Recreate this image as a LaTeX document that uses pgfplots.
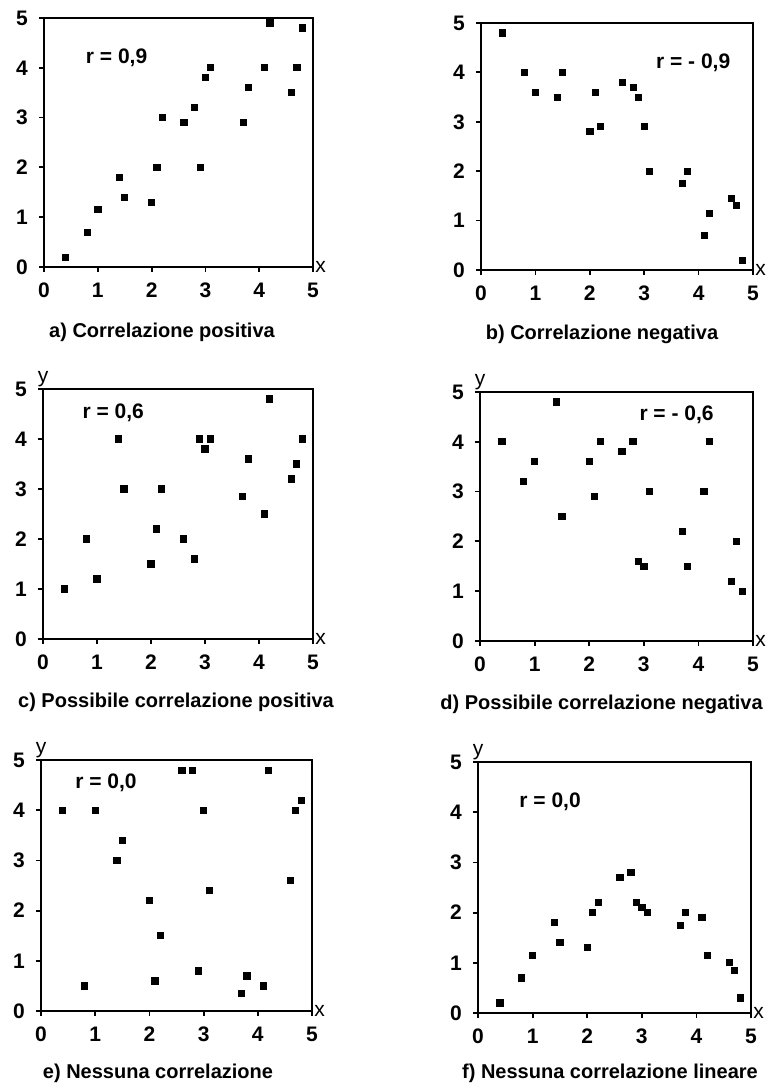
\documentclass[border=0pt]{standalone}
\usepackage{fontspec}
\setmainfont{Liberation Sans}
\usepackage{pgfplots}
\pgfplotsset{compat=1.18}
\pgfplotsset{
  corr/.style={
    scale only axis, anchor=south west,
    xmin=0, xmax=5, ymin=0, ymax=5,
    xtick={0,1,2,3,4,5}, ytick={0,1,2,3,4,5},
    xtick pos=bottom, ytick pos=left,
    tick align=outside, major tick length=2.6pt,
    axis line style={line width=1pt},
    every tick/.style={line width=0.9pt, black},
    /pgf/number format/assume math mode=true,
    every tick label/.append style={font=\bfseries\fontsize{10.5}{12}\selectfont},
    xticklabel style={yshift=-2pt},
    yticklabel style={xshift=-2pt},
    clip=false,
  },
  pts/.style={only marks, mark=square*, mark size=1.55pt, black},
}
\newcommand{\rfont}{\bfseries\fontsize{10.5}{12}\selectfont}
\newcommand{\capfont}{\bfseries\fontsize{10}{12}\selectfont}
\begin{document}
\begin{tikzpicture}
\path[use as bounding box, fill=white] (0,0) rectangle (383.5pt,546pt);

% a
\begin{axis}[corr, at={(22pt,412.5pt)}, width=134.5pt, height=124.5pt]
\addplot[pts] coordinates {(0.4,0.2)(0.8,0.7)(1.0,1.15)(1.4,1.8)(1.5,1.4)(2.0,1.3)(2.1,2.0)(2.2,3.0)(2.6,2.9)(2.8,3.2)(2.9,2.0)(3.0,3.8)(3.1,4.0)(3.7,2.9)(3.8,3.6)(4.1,4.0)(4.2,4.9)(4.6,3.5)(4.7,4.0)(4.8,4.8)};
\node[font=\rfont] at (axis cs:1.35,4.2) {r = 0,9};
\node[anchor=west, inner sep=1pt, font=\fontsize{10.5}{12}\selectfont] at (axis cs:5,0) {x};
\end{axis}

% b
\begin{axis}[corr, at={(240.5pt,411pt)}, width=136pt, height=123.5pt]
\addplot[pts] coordinates {(0.4,4.8)(0.8,4.0)(1.0,3.6)(1.4,3.5)(1.5,4.0)(2.0,2.8)(2.1,3.6)(2.2,2.9)(2.6,3.8)(2.8,3.7)(2.9,3.5)(3.0,2.9)(3.1,2.0)(3.7,1.75)(3.8,2.0)(4.1,0.7)(4.2,1.15)(4.6,1.45)(4.7,1.3)(4.8,0.2)};
\node[font=\rfont] at (axis cs:3.9,4.2) {r = - 0,9};
\node[anchor=west, inner sep=1pt, font=\fontsize{10.5}{12}\selectfont] at (axis cs:5,0) {x};
\end{axis}

% c
\begin{axis}[corr, at={(21.5pt,226.5pt)}, width=135pt, height=125pt]
\addplot[pts] coordinates {(0.4,1.0)(0.8,2.0)(1.0,1.2)(1.4,4.0)(1.5,3.0)(2.0,1.5)(2.1,2.2)(2.2,3.0)(2.6,2.0)(2.8,1.6)(2.9,4.0)(3.0,3.8)(3.1,4.0)(3.7,2.85)(3.8,3.6)(4.1,2.5)(4.2,4.8)(4.6,3.2)(4.7,3.5)(4.8,4.0)};
\node[font=\rfont] at (axis cs:1.3,4.52) {r = 0,6};
\node[anchor=west, inner sep=1pt, font=\fontsize{10.5}{12}\selectfont] at (axis cs:5,0) {x};
\node[anchor=south, inner sep=1pt, font=\fontsize{10.5}{12}\selectfont] at (axis cs:0,5) {y};
\end{axis}

% d
\begin{axis}[corr, at={(240pt,225.5pt)}, width=136.5pt, height=124.5pt]
\addplot[pts] coordinates {(0.4,4.0)(0.8,3.2)(1.0,3.6)(1.4,4.8)(1.5,2.5)(2.0,3.6)(2.1,2.9)(2.2,4.0)(2.6,3.8)(2.8,4.0)(2.9,1.6)(3.0,1.5)(3.1,3.0)(3.7,2.2)(3.8,1.5)(4.1,3.0)(4.2,4.0)(4.6,1.2)(4.7,2.0)(4.8,1.0)};
\node[font=\rfont] at (axis cs:3.6,4.54) {r = - 0,6};
\node[anchor=west, inner sep=1pt, font=\fontsize{10.5}{12}\selectfont] at (axis cs:5,0) {x};
\node[anchor=south, inner sep=1pt, font=\fontsize{10.5}{12}\selectfont] at (axis cs:0,5) {y};
\end{axis}

% e
\begin{axis}[corr, at={(20.5pt,40.5pt)}, width=135.5pt, height=125.5pt]
\addplot[pts] coordinates {(0.4,4.0)(0.8,0.5)(1.0,4.0)(1.4,3.0)(1.5,3.4)(2.0,2.2)(2.1,0.6)(2.2,1.5)(2.6,4.8)(2.8,4.8)(2.9,0.8)(3.0,4.0)(3.1,2.4)(3.7,0.35)(3.8,0.7)(4.1,0.5)(4.2,4.8)(4.6,2.6)(4.7,4.0)(4.8,4.2)};
\node[font=\rfont] at (axis cs:1.2,4.54) {r = 0,0};
\node[anchor=west, inner sep=1pt, font=\fontsize{10.5}{12}\selectfont] at (axis cs:5,0) {x};
\node[anchor=south, inner sep=1pt, font=\fontsize{10.5}{12}\selectfont] at (axis cs:0,5) {y};
\end{axis}

% f
\begin{axis}[corr, at={(239pt,39.5pt)}, width=136.5pt, height=125.5pt]
\addplot[pts] coordinates {(0.4,0.2)(0.8,0.7)(1.0,1.15)(1.4,1.8)(1.5,1.4)(2.0,1.3)(2.1,2.0)(2.2,2.2)(2.6,2.7)(2.8,2.8)(2.9,2.2)(3.0,2.1)(3.1,2.0)(3.7,1.75)(3.8,2.0)(4.1,1.9)(4.2,1.15)(4.6,1.0)(4.7,0.85)(4.8,0.3)};
\node[font=\rfont] at (axis cs:1.32,4.2) {r = 0,0};
\node[anchor=west, inner sep=1pt, font=\fontsize{10.5}{12}\selectfont] at (axis cs:5,0) {x};
\node[anchor=south, inner sep=1pt, font=\fontsize{10.5}{12}\selectfont] at (axis cs:0,5) {y};
\end{axis}

% captions
\node[font=\capfont] at (81pt,380pt) {a) Correlazione positiva};
\node[font=\capfont] at (301pt,379pt) {b) Correlazione negativa};
\node[font=\capfont] at (88pt,195pt) {c) Possibile correlazione positiva};
\node[font=\capfont, anchor=west, inner sep=0pt] at (220pt,194pt) {d) Possibile correlazione negativa};
\node[font=\capfont] at (79pt,9.5pt) {e) Nessuna correlazione};
\node[font=\capfont] at (305pt,9.5pt) {f) Nessuna correlazione lineare};
\end{tikzpicture}
\end{document}
